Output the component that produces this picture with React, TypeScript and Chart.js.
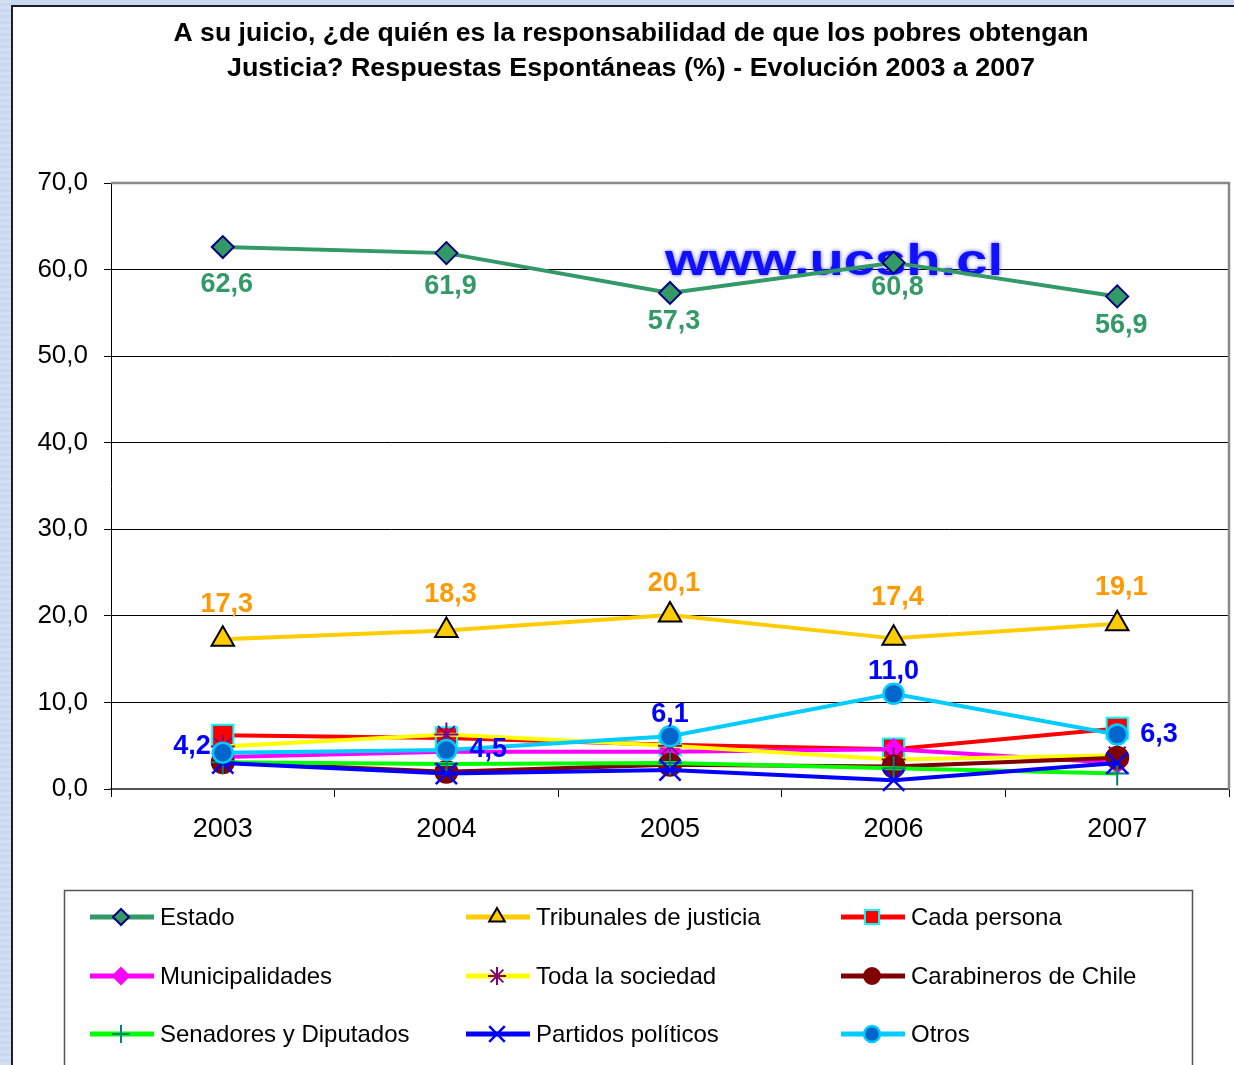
import React, { useEffect, useRef } from 'react';
import { Chart, registerables } from 'chart.js';
import { drawPoint } from 'chart.js/helpers';

Chart.register(...registerables);

const W = 1234;
const H = 1065;
const FONT = '"Liberation Sans", Arial, sans-serif';

const titleLines = [
  'A su juicio, ¿de quién es la responsabilidad de que los pobres obtengan',
  'Justicia? Respuestas Espontáneas (%) - Evolución 2003 a 2007',
];
const watermark = 'www.ucsh.cl';

const years = ['2003', '2004', '2005', '2006', '2007'];
const yTicks = [0, 10, 20, 30, 40, 50, 60, 70];

const estado = [62.6, 61.9, 57.3, 60.8, 56.9];
const tribunales = [17.3, 18.3, 20.1, 17.4, 19.1];
const cadaPersona = [6.2, 5.9, 5.1, 4.6, 7.0];
const municipalidades = [3.7, 4.3, 4.3, 4.6, 3.0];
const todaSociedad = [4.9, 6.3, 5.0, 3.4, 3.9];
const carabineros = [3.1, 2.0, 2.8, 2.6, 3.6];
const senadores = [3.1, 2.9, 3.0, 2.4, 1.8];
const partidos = [3.0, 1.8, 2.2, 1.0, 3.0];
const otros = [4.2, 4.5, 6.1, 11.0, 6.3];

// label placement (style, not data)
const estadoLabelDy = [37, 33, 29, 25, 29];
const tribunalesLabelDy = [-35, -36, -31, -41, -36];
const otrosLabelPos = ['left', 'right', 'top', 'top', 'right'];

type S = {
  label: string;
  data: number[];
  line: string;
  style: string;
  fill: string;
  border: string;
  bw: number;
  r: number;
  lr: number;
  order: number;
};

const series: S[] = [
  { label: 'Estado', data: estado, line: '#339966', style: 'rectRot', fill: '#339966', border: '#000080', bw: 2, r: 11, lr: 8, order: 8 },
  { label: 'Tribunales de justicia', data: tribunales, line: '#FFCC00', style: 'triangle', fill: '#FFCC00', border: '#000000', bw: 2, r: 13, lr: 9, order: 7 },
  { label: 'Cada persona', data: cadaPersona, line: '#FF0000', style: 'rect', fill: '#FF0000', border: '#00FFFF', bw: 2, r: 15, lr: 10, order: 6 },
  { label: 'Municipalidades', data: municipalidades, line: '#FF00FF', style: 'rectRot', fill: '#FF00FF', border: '#FF00FF', bw: 2, r: 10, lr: 8, order: 5 },
  { label: 'Toda la sociedad', data: todaSociedad, line: '#FFFF00', style: 'star', fill: '#800080', border: '#800080', bw: 2, r: 12, lr: 9, order: 4 },
  { label: 'Carabineros de Chile', data: carabineros, line: '#800000', style: 'circle', fill: '#800000', border: '#800000', bw: 2, r: 11, lr: 8, order: 3 },
  { label: 'Senadores y Diputados', data: senadores, line: '#00FF00', style: 'cross', fill: '#008080', border: '#008080', bw: 2, r: 12, lr: 9, order: 2 },
  { label: 'Partidos políticos', data: partidos, line: '#0000FF', style: 'crossRot', fill: '#0000FF', border: '#0000FF', bw: 2.5, r: 15, lr: 11, order: 1 },
  { label: 'Otros', data: otros, line: '#00CCFF', style: 'circle', fill: '#0066CC', border: '#00CCFF', bw: 2.5, r: 10, lr: 8, order: 0 },
];

const fmt = (v: number) => v.toFixed(1).replace('.', ',');

function fitText(ctx: CanvasRenderingContext2D, text: string, cx: number, y: number, width: number) {
  const w = ctx.measureText(text).width;
  ctx.save();
  ctx.translate(cx, y);
  ctx.scale(width / w, 1);
  ctx.textAlign = 'center';
  ctx.fillText(text, 0, 0);
  ctx.restore();
}

const bgPlugin = {
  id: 'bgPlugin',
  beforeDraw(chart: any) {
    const ctx = chart.ctx;
    ctx.save();
    ctx.fillStyle = '#c8d8ef';
    ctx.fillRect(0, 0, W, H);
    ctx.fillStyle = '#d3e0f3';
    for (let y = 0; y < H; y += 6) ctx.fillRect(0, y, 11, 3);
    ctx.fillStyle = '#ffffff';
    ctx.fillRect(11, 5, W, H);
    ctx.strokeStyle = '#1e1e2a';
    ctx.lineWidth = 2;
    ctx.beginPath();
    ctx.moveTo(12, H);
    ctx.lineTo(12, 6);
    ctx.lineTo(W, 6);
    ctx.stroke();
    ctx.fillStyle = '#000';
    ctx.font = `bold 25px ${FONT}`;
    ctx.textBaseline = 'middle';
    fitText(ctx, titleLines[0], 631, 34, 915);
    fitText(ctx, titleLines[1], 631, 69, 808);
    ctx.restore();
  },
  beforeDatasetsDraw(chart: any) {
    const ctx = chart.ctx;
    const a = chart.chartArea;
    ctx.save();
    ctx.strokeStyle = '#888888';
    ctx.lineWidth = 2.5;
    ctx.beginPath();
    ctx.moveTo(a.left, a.top);
    ctx.lineTo(a.right, a.top);
    ctx.lineTo(a.right, a.bottom);
    ctx.stroke();
    // watermark
    ctx.font = `bold 44px ${FONT}`;
    ctx.textAlign = 'left';
    ctx.textBaseline = 'alphabetic';
    const w = ctx.measureText(watermark).width;
    ctx.translate(665, 275);
    ctx.scale(338 / w, 1);
    ctx.fillStyle = '#1010ff';
    ctx.shadowColor = 'rgba(80,80,255,0.9)';
    ctx.shadowBlur = 4;
    ctx.fillText(watermark, 0, 0);
    ctx.restore();
  },
  afterDatasetsDraw(chart: any) {
    const ctx = chart.ctx;
    ctx.save();
    ctx.font = `bold 27px ${FONT}`;
    ctx.textBaseline = 'middle';
    ctx.textAlign = 'center';
    const mE = chart.getDatasetMeta(0);
    mE.data.forEach((p: any, i: number) => {
      ctx.fillStyle = '#339966';
      ctx.fillText(fmt(estado[i]), p.x + 4, p.y + estadoLabelDy[i]);
    });
    const mT = chart.getDatasetMeta(1);
    mT.data.forEach((p: any, i: number) => {
      ctx.fillStyle = '#FF9900';
      ctx.fillText(fmt(tribunales[i]), p.x + 4, p.y + tribunalesLabelDy[i]);
    });
    const mO = chart.getDatasetMeta(8);
    mO.data.forEach((p: any, i: number) => {
      ctx.fillStyle = '#0000FF';
      const pos = otrosLabelPos[i];
      if (pos === 'left') {
        ctx.textAlign = 'right';
        ctx.fillText(fmt(otros[i]), p.x - 12, p.y - 6);
      } else if (pos === 'right') {
        ctx.textAlign = 'left';
        ctx.fillText(fmt(otros[i]), p.x + 23, p.y);
      } else {
        ctx.textAlign = 'center';
        ctx.fillText(fmt(otros[i]), p.x, p.y - 22);
      }
    });
    ctx.restore();
  },
  afterDraw(chart: any) {
    const ctx = chart.ctx;
    ctx.save();
    ctx.fillStyle = '#fff';
    ctx.fillRect(64, 890, 1193 - 64, 200);
    ctx.strokeStyle = '#555';
    ctx.lineWidth = 1.5;
    ctx.beginPath();
    ctx.moveTo(64.5, H + 5);
    ctx.lineTo(64.5, 890.5);
    ctx.lineTo(1192.5, 890.5);
    ctx.lineTo(1192.5, H + 5);
    ctx.stroke();
    const cols = [90, 466, 841];
    const rows = [917, 976, 1034];
    ctx.font = `24px ${FONT}`;
    ctx.textBaseline = 'middle';
    ctx.textAlign = 'left';
    series.forEach((s, i) => {
      const x = cols[i % 3];
      const y = rows[Math.floor(i / 3)];
      ctx.strokeStyle = s.line;
      ctx.lineWidth = 5;
      ctx.beginPath();
      ctx.moveTo(x, y);
      ctx.lineTo(x + 64, y);
      ctx.stroke();
      ctx.fillStyle = s.fill;
      ctx.strokeStyle = s.border;
      ctx.lineWidth = s.bw;
      drawPoint(ctx, { pointStyle: s.style, radius: s.lr, rotation: 0, borderWidth: s.bw } as any, x + 31, y);
      ctx.fillStyle = '#000';
      ctx.fillText(s.label, x + 70, y + 1);
    });
    ctx.restore();
  },
};

export default function App() {
  const ref = useRef<HTMLCanvasElement | null>(null);
  useEffect(() => {
    if (!ref.current) return;
    const chart = new Chart(ref.current, {
      type: 'line',
      data: {
        labels: years,
        datasets: series.map((s) => ({
          label: s.label,
          data: s.data,
          borderColor: s.line,
          borderWidth: 4,
          backgroundColor: s.line,
          pointStyle: s.style as any,
          pointRadius: s.r,
          pointBackgroundColor: s.fill,
          pointBorderColor: s.border,
          pointBorderWidth: s.bw,
          tension: 0,
          fill: false,
          order: s.order,
          clip: false as any,
        })),
      },
      options: {
        responsive: false,
        animation: false,
        events: [],
        layout: { autoPadding: false, padding: { left: 11, right: 5, top: 183, bottom: 0 } },
        plugins: {
          legend: { display: false },
          title: { display: false },
          tooltip: { enabled: false },
        },
        scales: {
          x: {
            type: 'category',
            offset: true,
            grid: { offset: true, drawOnChartArea: false, drawTicks: true, tickLength: 8, color: '#000', lineWidth: 1 },
            border: { color: '#555', width: 2 },
            ticks: { color: '#000', font: { size: 27, family: FONT }, padding: 16, maxRotation: 0 },
            afterFit: (s: any) => {
              s.height = 276;
              s.paddingLeft = 0;
              s.paddingRight = 0;
            },
          },
          y: {
            min: yTicks[0],
            max: yTicks[yTicks.length - 1],
            afterBuildTicks: (s: any) => {
              s.ticks = yTicks.map((v) => ({ value: v }));
            },
            ticks: { color: '#000', font: { size: 26, family: FONT }, padding: 16, callback: (v: any) => fmt(Number(v)) },
            grid: { color: '#000', lineWidth: 1, tickLength: 7, drawTicks: true },
            border: { color: '#000', width: 1 },
            afterFit: (s: any) => {
              s.width = 100;
              s.paddingTop = 0;
              s.paddingBottom = 0;
            },
          },
        },
      },
      plugins: [bgPlugin],
    });
    return () => chart.destroy();
  }, []);
  return (
    <div style={{ position: 'absolute', left: 0, top: 0, width: W, height: H }}>
      <canvas ref={ref} width={W} height={H} style={{ display: 'block', width: W, height: H }} />
    </div>
  );
}
